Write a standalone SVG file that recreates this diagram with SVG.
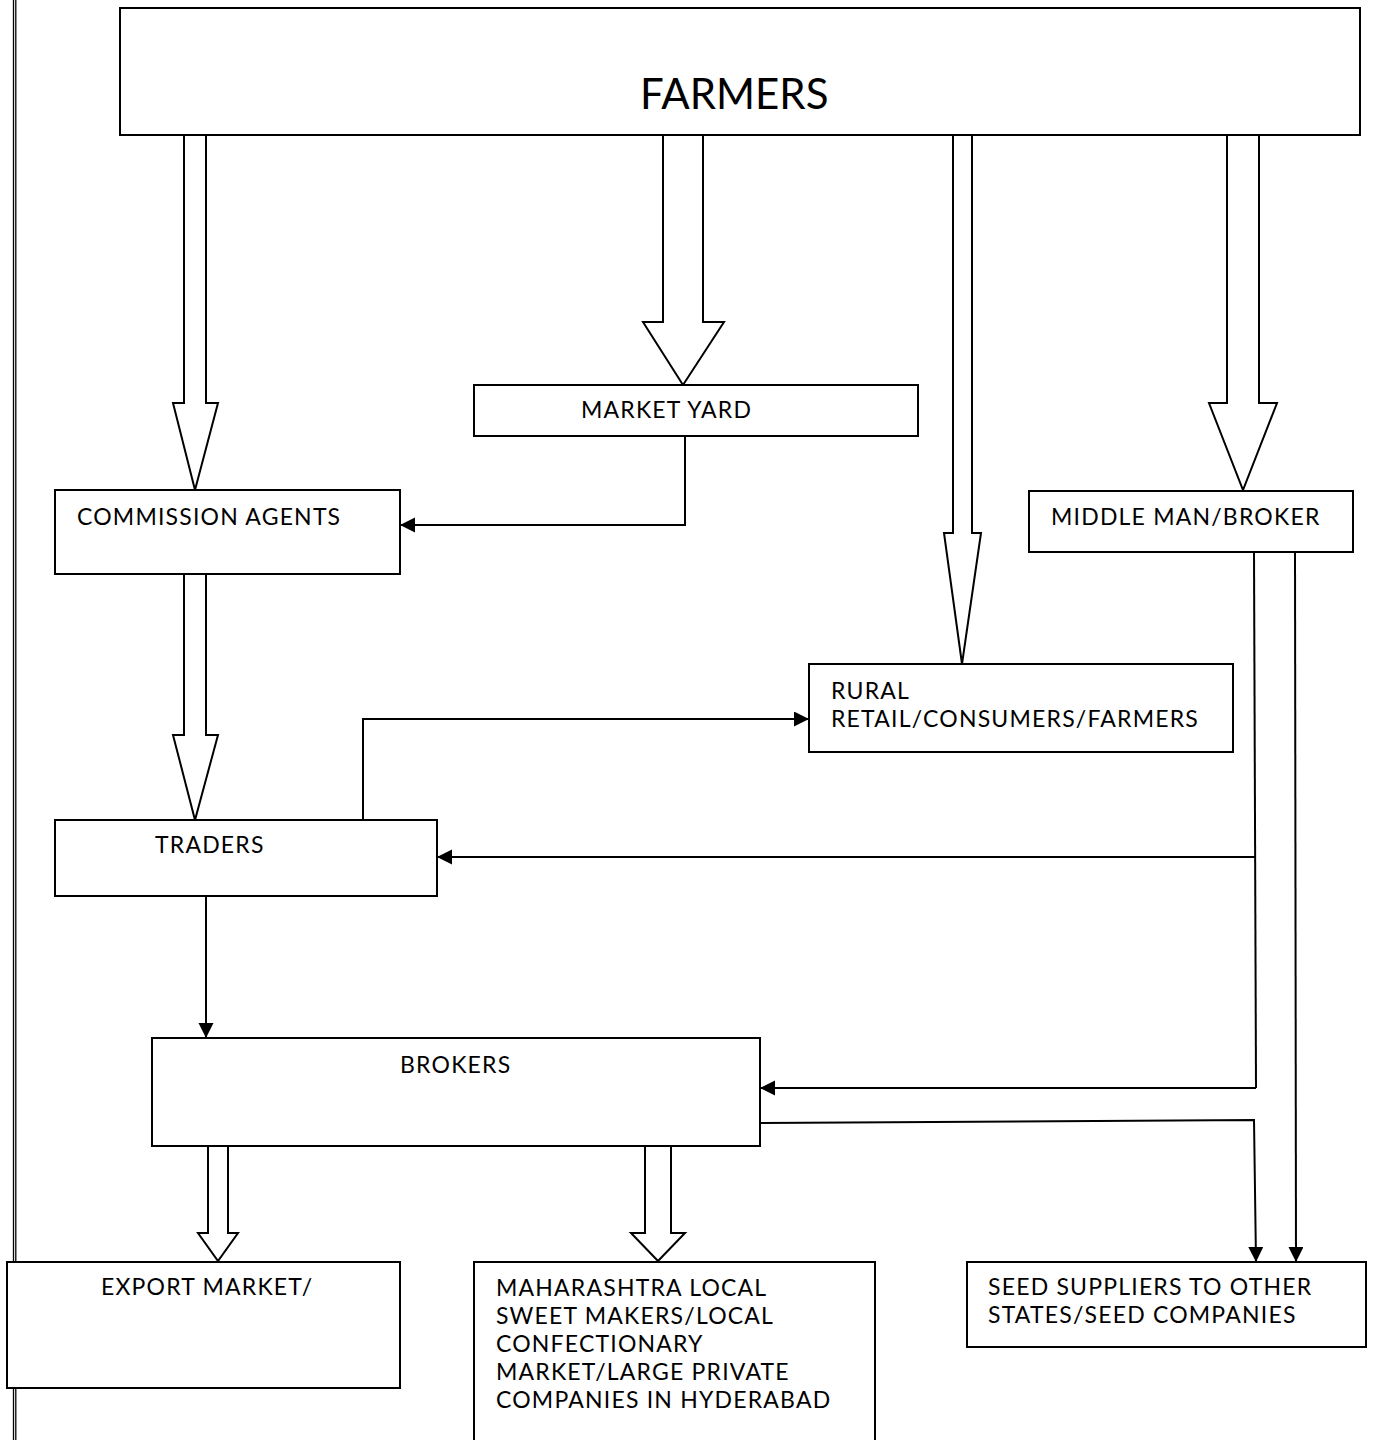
<svg xmlns="http://www.w3.org/2000/svg" width="1384" height="1440" viewBox="0 0 1384 1440">
  <style>
    .box { fill: #fff; stroke: #000; stroke-width: 2; }
    .block { fill: #fff; stroke: #000; stroke-width: 2; stroke-linejoin: miter; }
    .wire { fill: none; stroke: #000; stroke-width: 2; }
    .lbl { font-family: Lato, "Liberation Sans", sans-serif; font-size: 23px; letter-spacing: 1.2px; fill: #000; }
    .big { font-family: Lato, "Liberation Sans", sans-serif; font-size: 42px; fill: #000; }
  </style>
  <defs>
    <marker id="tip" markerUnits="userSpaceOnUse" markerWidth="16" markerHeight="16" refX="14" refY="7.5" orient="auto">
      <path d="M0,0 L15,7.5 L0,15 Z" fill="#000"/>
    </marker>
  </defs>

  <rect width="1384" height="1440" fill="#fff"/>

  <!-- page margin rule -->
  <g id="margin">
    <line x1="13.5" y1="0" x2="13.5" y2="1440" stroke="#000" stroke-width="1.3"/>
    <line x1="15.8" y1="0" x2="15.8" y2="1440" stroke="#000" stroke-width="1.3"/>
  </g>

  <!-- block arrows and line connectors -->
  <g id="connectors">
    <polygon class="block" points="184,135 206,135 206,403 218,403 195,490 173,403 184,403"/>
    <polygon class="block" points="663,135 703,135 703,322 724,322 683,385 643,322 663,322"/>
    <polygon class="block" points="953,135 972,135 972,533 981,533 962,664 944,533 953,533"/>
    <polygon class="block" points="1227,135 1259,135 1259,403 1277,403 1243,490 1209,403 1227,403"/>
    <polygon class="block" points="184,574 206,574 206,735 218,735 195,820 173,735 184,735"/>
    <polygon class="block" points="208,1146 228,1146 228,1233 238,1233 218,1261 198,1233 208,1233"/>
    <polygon class="block" points="645,1146 671,1146 671,1233 685,1233 658,1261 631,1233 645,1233"/>

    <polyline class="wire" points="685,436 685,525 401,525" marker-end="url(#tip)"/>
    <polyline class="wire" points="363,820 363,719 808,719" marker-end="url(#tip)"/>
    <polyline class="wire" points="1254,552 1256,1088"/>
    <polyline class="wire" points="1256,857 438,857" marker-end="url(#tip)"/>
    <polyline class="wire" points="1256,1088 761,1088" marker-end="url(#tip)"/>
    <polyline class="wire" points="1295,552 1296,1261" marker-end="url(#tip)"/>
    <polyline class="wire" points="760,1123 1254,1120 1256,1261" marker-end="url(#tip)"/>
    <polyline class="wire" points="206,896 206,1037" marker-end="url(#tip)"/>
  </g>

  <g id="farmers">
    <rect class="box" x="120" y="8" width="1240" height="127"/>
    <text class="big" x="640" y="109">FARMERS</text>
  </g>

  <g id="market-yard">
    <rect class="box" x="474" y="385" width="444" height="51"/>
    <text class="lbl" x="581" y="418">MARKET YARD</text>
  </g>

  <g id="commission-agents">
    <rect class="box" x="55" y="490" width="345" height="84"/>
    <text class="lbl" x="77" y="525">COMMISSION AGENTS</text>
  </g>

  <g id="middle-man">
    <rect class="box" x="1029" y="491" width="324" height="61"/>
    <text class="lbl" x="1051" y="525">MIDDLE MAN/BROKER</text>
  </g>

  <g id="rural">
    <rect class="box" x="809" y="664" width="424" height="88"/>
    <text class="lbl" x="831" y="699">RURAL</text>
    <text class="lbl" x="831" y="727">RETAIL/CONSUMERS/FARMERS</text>
  </g>

  <g id="traders">
    <rect class="box" x="55" y="820" width="382" height="76"/>
    <text class="lbl" x="155" y="853">TRADERS</text>
  </g>

  <g id="brokers">
    <rect class="box" x="152" y="1038" width="608" height="108"/>
    <text class="lbl" x="400" y="1073">BROKERS</text>
  </g>

  <g id="export-market">
    <rect class="box" x="7" y="1262" width="393" height="126"/>
    <text class="lbl" x="101" y="1295">EXPORT MARKET/</text>
  </g>

  <g id="maharashtra">
    <rect class="box" x="474" y="1262" width="401" height="190"/>
    <text class="lbl" x="496" y="1296">MAHARASHTRA LOCAL</text>
    <text class="lbl" x="496" y="1324">SWEET MAKERS/LOCAL</text>
    <text class="lbl" x="496" y="1352">CONFECTIONARY</text>
    <text class="lbl" x="496" y="1380">MARKET/LARGE PRIVATE</text>
    <text class="lbl" x="496" y="1408">COMPANIES IN HYDERABAD</text>
  </g>

  <g id="seed-suppliers">
    <rect class="box" x="967" y="1262" width="399" height="85"/>
    <text class="lbl" x="988" y="1295">SEED SUPPLIERS TO OTHER</text>
    <text class="lbl" x="988" y="1323">STATES/SEED COMPANIES</text>
  </g>
</svg>
